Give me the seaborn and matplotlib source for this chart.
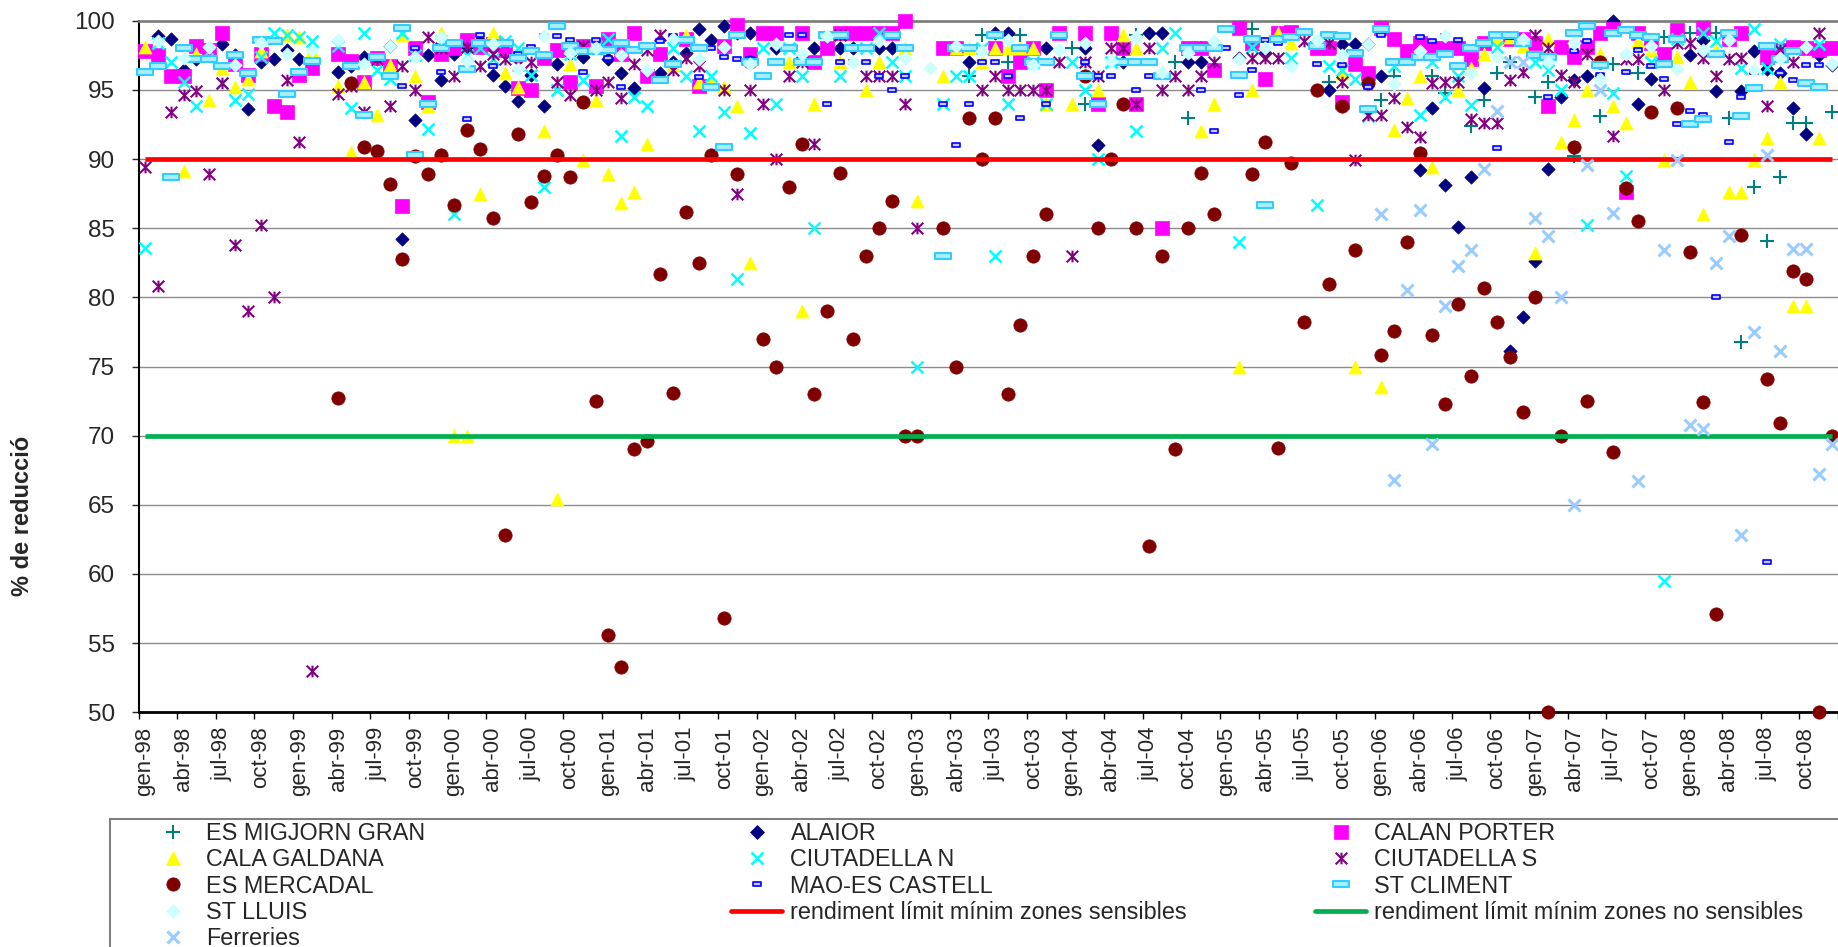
import numpy as np
import matplotlib
matplotlib.use("Agg")
import matplotlib.pyplot as plt
from matplotlib.lines import Line2D
from matplotlib.path import Path
import seaborn as sns

n = np.nan

# one row per year, gen..des, 1998-2008
migjorn = [
    n, n, n, n, n, n, n, n, n, n, n, n,
    n, n, n, n, n, n, n, n, n, n, n, n,
    n, n, n, n, n, n, n, n, n, n, n, n,
    n, n, n, n, n, n, n, n, n, n, n, n,
    n, n, n, n, n, n, n, n, n, n, n, n,
    n, n, n, n, 96.0, 99.0, n, 97.0, 99.0, n, n, n,
    98.0, 94.0, n, n, n, 99.0, n, n, 97.0, 93.0, 98.0, n,
    n, n, 99.4, n, n, n, n, n, 95.6, n, n, n,
    94.3, 96.0, n, n, 96.0, 94.8, n, 92.4, 94.3, 96.2, 97.0, n,
    94.5, 95.6, n, 90.2, n, 93.1, 96.9, n, 96.2, n, 98.8, n,
    99.1, n, 99.1, 93.0, 76.8, 88.0, 84.1, 88.7, 92.6, 92.6, n, 93.4,
]
alaior = [
    n, 98.9, 98.7, 96.4, 97.2, 98.0, 98.3, 97.5, 93.6, 97.0, 97.2, 97.9,
    97.2, 97.1, n, 96.3, 96.7, 97.4, 97.2, 98.2, 84.2, 92.8, 97.5, 95.7,
    97.6, 98.0, 98.5, 96.1, 95.3, 94.2, 96.1, 93.8, 96.9, 97.6, 97.4, n,
    97.2, 96.2, 95.1, n, 96.2, 97.0, 97.7, 99.4, 98.6, 99.6, 99.1, 99.1,
    n, 98.0, n, n, 98.0, n, 98.0, 98.0, n, 98.0, 98.0, n,
    n, n, n, n, 97.0, n, 99.1, 99.1, n, n, 98.0, n,
    n, 98.0, 91.0, n, 97.0, n, 99.1, 99.1, n, 97.0, 97.0, n,
    n, 97.3, n, 97.7, n, n, n, n, 95.0, 98.3, 98.3, 98.3,
    96.0, n, n, 89.2, 93.7, 88.1, 85.1, 88.7, 95.1, n, 76.1, 78.6,
    82.6, 89.3, 94.5, 95.7, 96.0, n, 100.0, n, 94.0, 95.8, n, n,
    97.5, 98.6, 94.9, n, 94.9, 97.8, 96.5, 96.2, 93.7, 91.8, 97.5, 96.8,
]
calan_porter = [
    97.8, 97.5, 96.0, 96.0, 98.2, 97.9, 99.1, 96.9, 96.1, 97.6, 93.8, 93.4,
    96.1, 96.6, n, 97.6, 97.1, 95.6, 97.3, 96.7, 86.6, 98.0, 94.1, 97.6,
    98.0, 98.6, 98.1, 98.3, 97.9, 95.1, 95.0, 97.3, 97.9, 95.6, 98.2, 95.3,
    98.7, 97.6, 99.1, 96.0, 97.6, n, 98.7, 95.3, n, 98.2, 99.7, 97.6,
    99.1, 99.1, n, 99.1, 97.0, 98.0, 99.1, 99.1, 99.1, 99.1, 99.1, 100.0,
    n, n, 98.0, 98.0, n, n, 98.0, 96.0, 97.0, 98.0, 95.0, 99.1,
    n, 99.1, 94.0, 99.1, 98.0, 94.0, n, 85.0, n, 98.0, 98.0, 96.4,
    n, 99.5, 98.4, 95.8, 99.1, 99.2, n, 98.0, 98.0, 94.1, 96.9, 96.2,
    99.5, 98.7, 97.8, 98.4, 98.0, 98.0, 98.0, 97.2, 98.4, n, 98.7, 98.7,
    98.4, 93.8, 98.1, 97.4, 98.1, 99.1, 99.4, 87.6, 99.1, 98.4, 97.6, 99.3,
    n, 99.5, n, 98.7, 99.1, n, 97.4, 97.9, 98.1, 98.0, 97.9, 98.0,
]
cala_galdana = [
    98.1, n, n, 89.1, 97.6, 94.3, 96.6, 95.2, 95.8, 97.8, n, 99.0,
    98.8, 97.8, n, 95.3, 90.5, 95.6, 93.2, 96.8, 99.0, 96.0, 93.8, 99.1,
    70.0, 70.0, 87.5, 99.1, 96.2, 95.2, n, 92.0, 65.4, 96.9, 89.9, 94.3,
    88.9, 86.8, 87.6, 91.1, n, 96.8, 99.0, 95.6, 95.6, 95.2, 93.8, 82.5,
    n, n, 97.0, 79.0, 94.0, n, 97.0, n, 95.0, 97.0, n, 98.0,
    87.0, n, 96.0, 98.0, 98.0, 97.0, 98.0, 98.0, 98.0, 98.0, 94.0, n,
    94.0, n, 95.0, n, 99.0, 98.0, n, n, n, n, 92.0, 94.0,
    n, 75.0, 95.0, n, 99.1, 98.4, n, n, n, 96.2, 75.0, n,
    73.5, 92.1, 94.4, 96.0, 89.4, n, 95.0, 96.6, 97.6, 98.7, 98.8, 98.2,
    83.2, 98.7, 91.2, 92.8, 95.0, 97.6, 93.8, 92.6, 98.5, 97.9, 89.9, 97.4,
    95.6, 86.0, 97.9, 87.6, 87.6, 89.9, 91.5, 95.6, 79.4, 79.4, 91.5, n,
]
ciutadella_n = [
    83.6, 98.4, 97.0, 95.6, 93.8, 97.8, 95.5, 94.3, 94.7, 97.4, 99.1, 99.0,
    98.8, 98.5, n, 98.2, 93.7, 99.1, 96.4, 95.8, 99.1, 97.5, 92.2, 98.5,
    86.0, 97.5, 98.0, 97.2, 98.5, 98.0, 96.1, 88.0, 95.0, 97.6, 95.7, 98.2,
    98.7, 91.7, 94.5, 93.8, n, 98.0, 96.0, 92.0, 96.0, 93.4, 81.3, 91.9,
    98.0, 94.0, 98.0, 96.0, 85.0, n, 96.0, n, 98.0, 99.1, 97.0, 96.0,
    75.0, n, 94.0, 96.0, 96.0, 98.0, 83.0, 94.0, n, 97.0, 94.0, n,
    97.0, 95.0, 90.0, 97.0, n, 92.0, n, 98.0, 99.1, n, n, n,
    n, 84.0, 98.1, n, n, 97.3, n, 86.7, 96.7, 96.4, 95.8, 93.1,
    n, 96.7, n, 93.2, 97.0, 94.5, 96.0, 93.9, n, 98.1, n, n,
    97.0, 96.4, 95.0, n, 85.2, n, 94.8, 88.8, n, 97.0, 59.5, 98.7,
    n, 99.1, 98.5, n, 96.6, 99.4, 96.6, 98.3, n, n, 98.3, n,
]
ciutadella_s = [
    89.4, 80.8, 93.4, 94.6, 94.9, 88.9, 95.5, 83.8, 79.0, 85.2, 80.0, 95.7,
    91.2, 53.0, n, 94.7, 95.3, 93.4, 97.2, 93.8, 96.7, 95.0, 98.8, 98.0,
    96.0, 98.1, 96.7, 97.6, 97.2, 96.8, 97.0, n, 95.6, 94.6, 98.2, 95.0,
    95.6, 94.4, 96.9, 97.9, 99.0, 96.4, 97.3, 96.7, n, 95.0, 87.5, 95.0,
    94.0, 90.0, 96.0, 97.0, 91.1, n, 99.0, n, 96.0, 96.0, 96.0, 94.0,
    85.0, n, n, n, n, 95.0, 96.0, 95.0, 95.0, 95.0, 95.0, 97.0,
    83.0, 97.0, 96.0, 98.0, 98.0, 94.0, 98.0, 95.0, 96.0, 95.0, 96.0, 97.0,
    n, n, 97.3, 97.3, 97.3, n, 98.5, n, 98.4, 95.6, 89.9, 93.2,
    93.2, 94.4, 92.3, 91.6, 95.5, 95.6, 95.6, 92.9, 92.6, 92.6, 95.7, 96.3,
    99.0, 98.0, 96.1, 95.6, 97.6, n, 91.7, 97.2, 97.2, n, 95.0, 98.4,
    98.4, 97.3, 96.0, 97.2, 97.3, n, 93.8, 97.9, 97.0, n, 99.1, n,
]
es_mercadal = [
    n, n, n, n, n, n, n, n, n, n, n, n,
    n, n, n, 72.7, 95.5, 90.9, 90.6, 88.2, 82.8, 90.2, 88.9, 90.3,
    86.7, 92.1, 90.7, 85.7, 62.8, 91.8, 86.9, 88.8, 90.3, 88.7, 94.1, 72.5,
    55.6, 53.3, 69.0, 69.6, 81.7, 73.1, 86.2, 82.5, 90.3, 56.8, 88.9, 97.0,
    77.0, 75.0, 88.0, 91.1, 73.0, 79.0, 89.0, 77.0, 83.0, 85.0, 87.0, 70.0,
    70.0, n, 85.0, 75.0, 93.0, 90.0, 93.0, 73.0, 78.0, 83.0, 86.0, n,
    n, 96.0, 85.0, 90.0, 94.0, 85.0, 62.0, 83.0, 69.0, 85.0, 89.0, 86.0,
    n, n, 88.9, 91.2, 69.1, 89.7, 78.2, 95.0, 81.0, 93.8, 83.4, 95.5,
    75.8, 77.6, 84.0, 90.4, 77.3, 72.3, 79.5, 74.3, 80.7, 78.2, 75.7, 71.7,
    80.0, 50.0, 70.0, 90.9, 72.5, 97.0, 68.8, 87.9, 85.5, 93.4, n, 93.7,
    83.3, 72.4, 57.1, n, 84.5, n, 74.1, 70.9, 81.9, 81.3, 50.0, 70.0,
]
mao_es_castell = [
    n, n, n, n, n, n, n, n, n, n, n, n,
    n, n, n, n, n, n, n, n, 95.3, 98.0, n, 96.3,
    n, 92.9, 99.0, 96.7, n, 97.6, 98.1, 98.9, 98.9, 98.6, 96.3, 98.6,
    97.3, 95.2, n, n, 98.5, 98.9, n, 95.9, 98.0, 97.4, 97.2, 97.2,
    n, n, 99.0, 99.0, n, 94.0, 97.0, 97.0, 97.0, 96.0, 95.0, 96.0,
    n, n, 94.0, 91.0, 94.0, 97.0, 97.0, 96.0, 93.0, n, 94.0, n,
    n, 97.0, 96.0, 96.0, n, 95.0, 96.0, n, n, n, 95.0, 92.0,
    98.0, 94.6, 96.4, 98.6, 98.4, 98.9, n, 96.9, n, 96.8, n, 95.2,
    99.0, 97.0, n, 98.8, 98.5, 98.9, 98.6, 98.0, n, 90.8, 98.8, 98.6,
    n, 94.5, n, 97.8, 98.5, 96.1, 99.2, 96.3, 97.9, 96.7, 95.8, 92.5,
    93.5, 93.2, 80.0, 91.2, 94.5, 96.3, 60.9, 96.2, 95.7, 96.8, 96.8, n,
]
st_climent = [
    96.3, 96.7, 88.7, 98.0, 97.2, 97.2, 96.7, 97.5, 96.2, 98.6, 98.5, 94.7,
    96.3, 97.1, n, n, 96.7, 93.2, 97.4, 96.0, 99.5, 90.3, 94.0, 98.0,
    98.4, 96.5, 98.4, 98.4, 98.4, 97.3, 97.8, 97.5, 99.6, 98.2, 97.8, 97.8,
    97.9, 98.4, 97.9, 98.2, 95.7, 96.9, 98.6, 98.0, 95.2, 90.9, 99.0, 97.0,
    96.0, 97.0, 98.0, 97.0, 97.0, 99.0, 99.0, 98.0, 98.0, n, 99.0, 98.0,
    n, n, 83.0, 98.0, 98.0, n, 99.0, n, 98.0, 97.0, 97.0, 99.0,
    n, 96.0, 94.0, n, 97.0, 97.0, 97.0, 96.0, n, 98.0, 98.0, 98.0,
    99.4, 96.1, 98.7, 86.7, 98.7, 98.8, 99.2, 98.2, 99.0, 98.9, 97.7, 93.6,
    99.4, 97.0, 97.0, 97.4, 97.4, 97.6, 96.7, 98.0, 98.4, 99.0, 99.0, 98.4,
    97.5, 97.4, n, 99.1, 99.6, 96.8, 99.1, 99.3, 99.0, 98.8, 96.9, 98.7,
    92.5, 92.9, 97.6, 99.1, 93.1, 95.1, 98.2, 97.2, 97.8, 95.5, 95.2, n,
]
st_lluis = [
    n, 98.5, n, 97.3, n, 98.1, n, 96.8, n, 98.4, n, 97.6,
    n, 97.9, n, 98.6, n, 96.9, n, 98.2, n, 97.4, n, 98.8,
    n, 97.1, n, 98.3, n, 96.5, n, 98.9, n, 97.7, n, 98.0,
    n, 97.5, n, 96.4, n, 98.7, n, 97.2, n, 98.1, n, 96.9,
    n, 98.3, n, 97.6, n, 98.9, n, 97.0, n, 98.5, n, 97.3,
    n, 96.6, n, 98.2, n, 97.8, n, 98.6, n, 96.8, n, 97.9,
    n, 98.4, n, 97.1, n, 98.8, n, 96.3, n, 97.7, n, 98.5,
    n, 97.2, n, 98.0, n, 96.7, n, 98.6, n, 97.5, n, 98.3,
    n, 95.4, n, 97.8, n, 98.9, n, 96.2, n, 97.4, n, 98.7,
    n, 97.0, n, 98.4, n, 95.8, n, 97.6, n, 98.2, n, 96.5,
    n, 97.9, n, 98.6, n, 96.4, n, 97.3, n, 98.1, n, 96.9,
]
ferreries = [
    n, n, n, n, n, n, n, n, n, n, n, n,
    n, n, n, n, n, n, n, n, n, n, n, n,
    n, n, n, n, n, n, n, n, n, n, n, n,
    n, n, n, n, n, n, n, n, n, n, n, n,
    n, n, n, n, n, n, n, n, n, n, n, n,
    n, n, n, n, n, n, n, n, n, n, n, n,
    n, n, n, n, n, n, n, n, n, n, n, n,
    n, n, n, n, n, n, n, n, n, n, n, n,
    86.0, 66.8, 80.5, 86.3, 69.4, 79.4, 82.3, 83.4, 89.3, 93.5, 97.0, 97.0,
    85.7, 84.4, 80.0, 65.0, 89.6, 95.0, 86.1, n, 66.7, n, 83.4, 89.9,
    70.8, 70.5, 82.5, 84.4, 62.8, 77.5, 90.3, 76.1, 83.5, 83.5, 67.2, 69.4,
]

limit_sensible = 90
limit_no_sensible = 70

years = list(range(1998, 2009))
quarter_months = ["gen", "abr", "jul", "oct"]
tick_labels = [f"{m}-{str(y)[2:]}" for y in years for m in quarter_months]

# marker shapes that matplotlib does not have
star = Path([(-1, -1), (1, 1), (-1, 1), (1, -1), (0, -1), (0, 1)],
            [Path.MOVETO, Path.LINETO] * 3)
dash_small = Path([(-1, -0.5), (1, -0.5), (1, 0.5), (-1, 0.5), (-1, -0.5)],
                  [Path.MOVETO, Path.LINETO, Path.LINETO, Path.LINETO, Path.CLOSEPOLY])
dash_wide = Path([(-1, -0.35), (1, -0.35), (1, 0.35), (-1, 0.35), (-1, -0.35)],
                 [Path.MOVETO, Path.LINETO, Path.LINETO, Path.LINETO, Path.CLOSEPOLY])

# name, values, marker, s, face, edge, linewidth
series = [
    ("ES MIGJORN GRAN", migjorn, "+", 88, "#008080", None, 1.5),
    ("ALAIOR", alaior, "D", 46, "#000080", "#000080", 0.5),
    ("CALAN PORTER", calan_porter, "s", 94, "#FF00FF", "#FF00FF", 0.5),
    ("CALA GALDANA", cala_galdana, "^", 88, "#FFFF00", "#FFFF00", 0.5),
    ("CIUTADELLA N", ciutadella_n, "x", 74, "#00FFFF", None, 1.8),
    ("CIUTADELLA S", ciutadella_s, star, 70, "#800080", "#800080", 1.5),
    ("ES MERCADAL", es_mercadal, "o", 92, "#800000", "#800000", 0.5),
    ("MAO-ES CASTELL", mao_es_castell, dash_small, 30, "#C8C8FF", "#0000FF", 1.2),
    ("ST CLIMENT", st_climent, dash_wide, 135, "#A8EEFF", "#33CCFF", 1.5),
    ("ST LLUIS", st_lluis, "D", 46, "#CCFFFF", "#CCFFFF", 0.5),
]
ferreries_style = ("Ferreries", ferreries, "x", 74, "#99CCFF", None, 2.2)

sns.set_style("white")
plt.rcParams["font.family"] = ["Liberation Sans", "DejaVu Sans"]

fig = plt.figure(figsize=(18.38, 9.47), dpi=100)
ax = fig.add_axes([138.5 / 1838, 1 - 712.3 / 947, 1 - 138.5 / 1838, (712.3 - 20.7) / 947])

months = np.arange(len(es_mercadal))


def draw(name, vals, mk, s, face, edge, lw, z):
    kw = dict(x=months, y=np.array(vals, dtype=float), marker=mk, s=s, color=face,
              linewidth=lw, ax=ax, legend=False, clip_on=False, zorder=z)
    if edge is not None:
        kw["edgecolor"] = edge
    sns.scatterplot(**kw)


for k, spec in enumerate(series):
    draw(*spec, z=3 + k * 0.1)

ax.hlines(limit_sensible, months[0], months[-1], colors="#FF0000", lw=3.4, zorder=4.5)
ax.hlines(limit_no_sensible, months[0], months[-1], colors="#00B050", lw=3.4, zorder=4.6)
draw(*ferreries_style, z=4.8)

ax.set_xlim(-0.5, -0.5 + (1838 - 138.5) / 12.94)
ax.set_ylim(50, 100)
ax.set_yticks(range(50, 101, 5))
ax.tick_params(axis="y", labelsize=17.5, length=5, width=1, pad=12, direction="out", left=True)
ax.set_xticks(months[::3][:len(tick_labels)])
ax.set_xticklabels(tick_labels, rotation=90, fontsize=16)
ax.tick_params(axis="x", which="major", length=0, pad=10.4)
ax.set_xticks(np.arange(-0.5, len(months), 3), minor=True)
ax.tick_params(axis="x", which="minor", length=5, width=1, color="black", direction="out", bottom=True)

ax.yaxis.grid(True, color="#8c8c8c", lw=1)
ax.xaxis.grid(False)
ax.set_axisbelow(True)
ax.spines["left"].set_color("black")
ax.spines["left"].set_linewidth(1.5)
ax.spines["bottom"].set_color("black")
ax.spines["bottom"].set_linewidth(2)
ax.spines["top"].set_color("#808080")
ax.spines["top"].set_linewidth(2)
ax.spines["right"].set_visible(False)

ax.set_xlabel("")
ax.set_ylabel("% de reducció", fontsize=17, fontweight="bold")
ax.yaxis.set_label_coords(-0.0615, 0.284)


def handle(spec):
    name, vals, mk, s, face, edge, lw = spec
    if edge is None:
        return Line2D([], [], ls="none", marker=mk, markersize=np.sqrt(s),
                      color=face, markeredgewidth=lw)
    return Line2D([], [], ls="none", marker=mk, markersize=np.sqrt(s),
                  markerfacecolor=face, markeredgecolor=edge, markeredgewidth=lw)


red_line = Line2D([], [], color="#FF0000", lw=3.4)
green_line = Line2D([], [], color="#00B050", lw=3.4)
by_name = {spec[0]: spec for spec in series + [ferreries_style]}

col1 = ["ES MIGJORN GRAN", "CALA GALDANA", "ES MERCADAL", "ST LLUIS", "Ferreries"]
col2 = ["ALAIOR", "CIUTADELLA N", "MAO-ES CASTELL"]
col3 = ["CALAN PORTER", "CIUTADELLA S", "ST CLIMENT"]

leg_kw = dict(loc="upper left", frameon=False, borderpad=0, borderaxespad=0,
              handlelength=2.2, handletextpad=0.35, labelspacing=0.14, fontsize=16.8)
top = 1 - 822 / 947
fig.legend([handle(by_name[c]) for c in col1], col1, bbox_to_anchor=(147 / 1838, top), **leg_kw)
fig.legend([handle(by_name[c]) for c in col2] + [red_line],
           col2 + ["rendiment límit mínim zones sensibles"],
           bbox_to_anchor=(731 / 1838, top), **leg_kw)
fig.legend([handle(by_name[c]) for c in col3] + [green_line],
           col3 + ["rendiment límit mínim zones no sensibles"],
           bbox_to_anchor=(1315 / 1838, top), **leg_kw)

# legend frame (cut by the picture edge)
box_x = 110 / 1838
box_y = 1 - 819 / 947
fig.add_artist(Line2D([box_x, 1.0], [box_y, box_y], color="#808080", lw=1.5, transform=fig.transFigure))
fig.add_artist(Line2D([box_x, box_x], [box_y, 0.0], color="#808080", lw=1.5, transform=fig.transFigure))

fig.savefig("out.png", dpi=100)
